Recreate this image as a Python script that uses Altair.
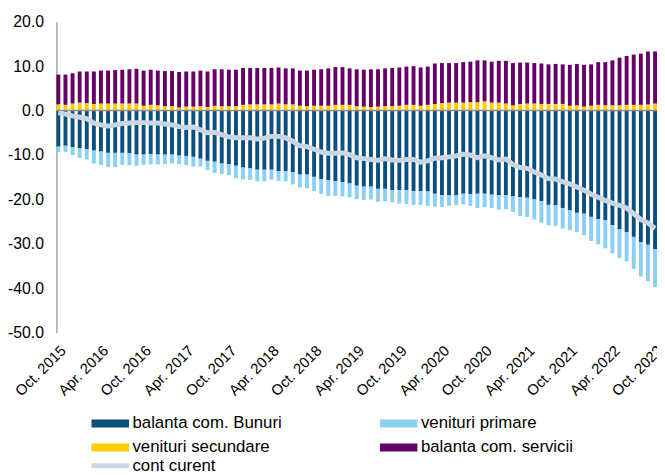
import altair as alt
import pandas as pd

luni_abrev = ["Ian.", "Feb.", "Mar.", "Apr.", "Mai", "Iun.", "Iul.", "Aug.", "Sep.", "Oct.", "Nov.", "Dec."]
perioade = []
for k in range(85):
    m = (9 + k) % 12
    an = 2015 + (9 + k) // 12
    perioade.append(f"{luni_abrev[m]} {an}")
etichete_x = [p for p in perioade if p.startswith(("Oct.", "Apr."))]

# legend order (column-major fill): col 1 = Bunuri, secundare; col 2 = primare, servicii
serii = ["balanta com. Bunuri", "venituri secundare", "venituri primare", "balanta com. servicii"]
culori = ["#0B4F7D", "#FFCC00", "#89D0F2", "#660066"]

bunuri = [
    -8.1, -7.9, -8.2, -8.5, -8.7, -9.0, -9.2, -9.5, -9.5, -9.5, -9.6, -9.9, -9.9, -9.8, -9.9,
    -9.9, -9.9, -10.1, -10.2, -10.4, -10.8, -11.3, -11.5, -11.9, -12.1, -12.4, -12.8, -13.0, -13.3, -13.3,
    -13.3, -13.6, -13.6, -13.9, -14.4, -14.4, -14.9, -15.4, -15.6, -15.9, -16.1, -16.4, -16.9, -17.1,
    -17.1, -17.6, -17.6, -17.9, -17.9, -17.9, -18.1, -18.1, -18.2, -18.7, -19.0, -19.0, -19.0, -18.7,
    -18.8, -18.7, -18.7, -18.9, -19.0, -19.0, -19.3, -19.5, -19.6, -20.0, -20.4, -21.2, -21.3, -21.9,
    -22.4, -23.0, -23.2, -23.9, -24.4, -24.7, -25.8, -26.7, -27.3, -28.4, -29.6, -30.2, -31.2,
]
primare = [
    -1.2, -1.4, -1.8, -2.1, -2.3, -2.9, -3.0, -3.2, -3.2, -2.7, -2.7, -2.5, -2.3, -2.3, -2.2,
    -2.1, -2.0, -1.9, -2.1, -2.2, -1.8, -2.1, -2.5, -2.4, -2.4, -2.8, -2.7, -2.6, -2.6, -2.6,
    -2.2, -2.2, -2.3, -2.7, -2.9, -3.1, -3.2, -3.3, -3.6, -3.3, -3.2, -3.1, -3.0, -3.0,
    -2.9, -2.9, -2.8, -2.7, -3.0, -3.1, -3.1, -3.1, -3.2, -2.9, -2.7, -2.4, -2.3, -2.4,
    -2.6, -3.2, -3.0, -3.0, -3.3, -3.2, -3.5, -4.2, -4.3, -4.5, -4.8, -4.6, -4.6, -4.6,
    -4.5, -4.3, -4.8, -5.4, -5.7, -6.3, -6.3, -6.5, -6.6, -7.2, -7.7, -8.2, -8.5,
]
secundare = [
    1.4, 1.3, 1.6, 1.8, 1.7, 1.5, 1.6, 1.6, 1.6, 1.6, 1.6, 1.6, 1.1, 1.3, 1.2,
    1.0, 1.0, 0.7, 0.9, 0.9, 1.0, 0.8, 1.1, 1.0, 1.0, 1.0, 1.3, 1.4, 1.4, 1.4,
    1.4, 1.6, 1.4, 1.4, 1.1, 1.0, 1.1, 1.1, 1.1, 1.3, 1.3, 1.3, 1.0, 0.9,
    0.8, 0.9, 1.0, 1.0, 1.1, 1.3, 1.3, 1.1, 1.3, 1.5, 1.7, 1.8, 1.8, 1.8,
    1.9, 1.9, 2.1, 1.8, 1.8, 1.6, 1.2, 1.5, 1.6, 1.6, 1.5, 1.5, 1.5, 1.5,
    1.1, 1.2, 0.9, 1.1, 1.3, 1.2, 1.2, 1.2, 1.3, 1.3, 1.3, 1.4, 1.6,
]
servicii = [
    6.7, 6.8, 6.8, 7.0, 7.1, 7.3, 7.4, 7.4, 7.5, 7.6, 7.7, 7.8, 7.9, 7.9, 7.8,
    7.9, 7.9, 8.0, 7.9, 7.9, 8.0, 8.0, 8.2, 8.3, 8.2, 8.2, 8.3, 8.2, 8.2, 8.2,
    8.2, 8.1, 8.1, 8.1, 7.9, 8.0, 8.1, 8.2, 8.4, 8.5, 8.5, 8.2, 8.3, 8.3,
    8.5, 8.4, 8.5, 8.6, 8.6, 8.6, 8.7, 8.6, 8.6, 9.1, 9.0, 8.9, 8.9, 9.1,
    9.1, 9.4, 9.2, 9.2, 9.4, 9.6, 9.5, 9.3, 9.2, 9.1, 9.1, 8.9, 9.0, 8.9,
    9.2, 9.3, 9.4, 9.3, 9.6, 9.7, 10.1, 10.7, 11.0, 11.3, 11.5, 11.9, 11.7,
]
cont_curent = [
    -0.5, -0.8, -1.2, -1.5, -1.8, -2.8, -3.2, -3.5, -3.2, -2.9, -2.8, -2.7, -2.7, -2.8, -2.8,
    -3.0, -3.2, -3.6, -3.8, -3.7, -4.3, -5.0, -4.9, -5.4, -5.9, -6.1, -6.1, -6.1, -6.4, -6.2,
    -5.8, -5.8, -6.1, -6.9, -7.9, -8.1, -8.7, -9.3, -9.6, -9.6, -9.5, -9.9, -10.6, -10.8,
    -11.0, -11.2, -10.8, -11.1, -11.2, -11.0, -11.0, -11.6, -11.3, -10.7, -10.6, -10.4, -10.2, -9.8,
    -10.0, -10.6, -10.2, -10.6, -11.1, -10.9, -12.1, -12.8, -13.0, -13.8, -14.5, -15.3, -15.4, -16.0,
    -16.5, -17.2, -17.9, -18.8, -19.5, -20.2, -20.8, -21.3, -21.9, -23.2, -24.5, -25.3, -26.5,
]

ordine = {"balanta com. Bunuri": 0, "venituri secundare": 1, "venituri primare": 2, "balanta com. servicii": 3}
valori = {"balanta com. Bunuri": bunuri, "venituri primare": primare,
          "venituri secundare": secundare, "balanta com. servicii": servicii}
rows = []
for s in serii:
    for p, v in zip(perioade, valori[s]):
        rows.append({"perioada": p, "serie": s, "valoare": v, "ordine": ordine[s]})
df_bars = pd.DataFrame(rows)
df_line = pd.DataFrame({"perioada": perioade, "serie": "cont curent", "valoare": cont_curent})
df_zero = pd.DataFrame({"y": [0.0]})

FONT = "Liberation Sans"

x_enc = alt.X(
    "perioada:N", sort=perioade, title=None,
    scale=alt.Scale(paddingInner=0.45, paddingOuter=0),
    axis=alt.Axis(values=etichete_x, labelAngle=-45, labelAlign="right", labelBaseline="top",
                  labelPadding=10, labelFontSize=15, labelFont=FONT, labelColor="#000000",
                  ticks=False, domain=False, grid=False, labelOverlap=False, labelBound=False),
)

bars = alt.Chart(df_bars).mark_bar().encode(
    x=x_enc,
    y=alt.Y("valoare:Q", stack="zero", title=None,
            scale=alt.Scale(domain=[-50, 20], nice=False, zero=False),
            axis=alt.Axis(values=[-50, -40, -30, -20, -10, 0, 10, 20],
                          labelExpr="replace(format(datum.value, '.1f'), '\u2212', '-')",
                          labelFontSize=16, labelFont=FONT, labelColor="#000000", labelPadding=13,
                          ticks=False, grid=False, domainColor="#A6A6A6", domainWidth=1.5)),
    color=alt.Color("serie:N", scale=alt.Scale(domain=serii, range=culori),
                    legend=alt.Legend(title=None, orient="none", legendX=46, legendY=398,
                                      columns=2, columnPadding=98, rowPadding=6.5,
                                      symbolType="M-4.75,-1H4.75V1H-4.75Z", symbolSize=64,
                                      symbolStrokeWidth=0, labelOffset=14, labelFontSize=17,
                                      labelLimit=400,
                                      labelFont=FONT, labelColor="#000000", padding=0)),
    order=alt.Order("ordine:Q"),
)

zero = alt.Chart(df_zero).mark_rule(color="#8C8C8C", strokeWidth=1.5).encode(y="y:Q")

line = alt.Chart(df_line).mark_line(strokeWidth=5, strokeJoin="round").encode(
    x=alt.X("perioada:N", sort=perioade),
    y=alt.Y("valoare:Q"),
    stroke=alt.Stroke("serie:N", scale=alt.Scale(domain=["cont curent"], range=["#CAD5E5"]),
                      legend=alt.Legend(title=None, orient="none", legendX=46, legendY=441,
                                        symbolType="M-4.75,0H4.75", symbolSize=64,
                                        symbolStrokeWidth=5, labelOffset=14, labelFontSize=17,
                                        labelLimit=400,
                                        labelFont=FONT, labelColor="#000000", padding=0)),
)

chart = alt.layer(bars, zero, line).properties(
    width=608, height=315,
    autosize=alt.AutoSizeParams(type="none"),
    padding={"left": 49, "top": 11, "right": 0, "bottom": 141},
).configure_view(stroke=None)

chart.save("out.html", embed_options={"renderer": "svg", "actions": False})
